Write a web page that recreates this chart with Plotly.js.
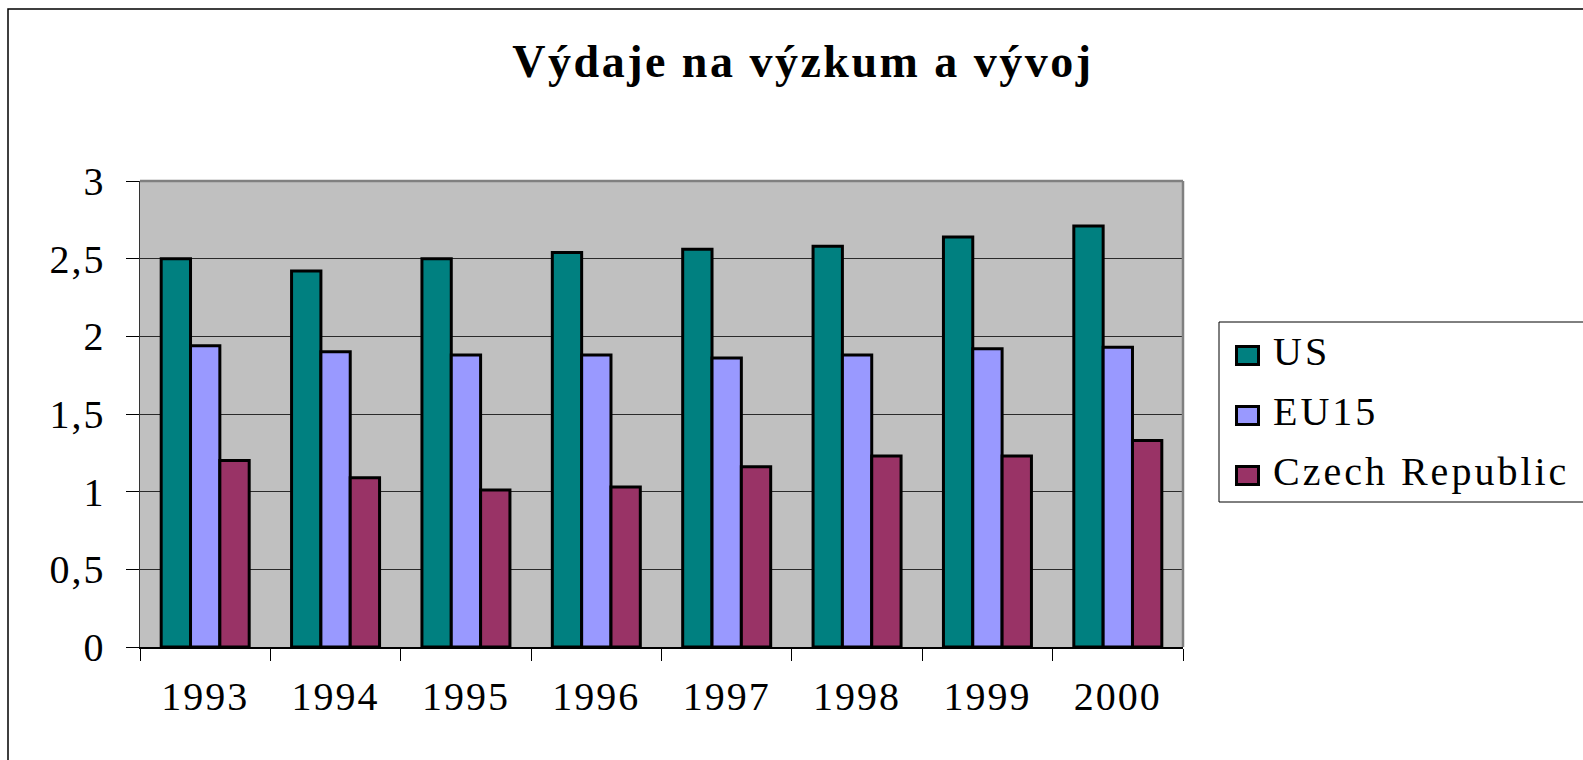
<!DOCTYPE html>
<html>
<head>
<meta charset="utf-8">
<script src="https://cdn.plot.ly/plotly-3.0.1.min.js"></script>
<style>
  html, body { margin: 0; padding: 0; background: #fff; overflow: hidden; }
  #chart { width: 1583px; height: 760px; }
  .gtitle { letter-spacing: 2.5px; }
  .xtick text { letter-spacing: 2px; }
  .ytick text { letter-spacing: 2px; }
  .annotation-text { letter-spacing: 3px; }
</style>
</head>
<body>
<div id="chart"></div>
<script>
const years = ['1993', '1994', '1995', '1996', '1997', '1998', '1999', '2000'];
const usValues = [2.50, 2.42, 2.50, 2.54, 2.56, 2.58, 2.64, 2.71];
const eu15Values = [1.94, 1.90, 1.88, 1.88, 1.86, 1.88, 1.92, 1.93];
const czValues = [1.20, 1.09, 1.01, 1.03, 1.16, 1.23, 1.23, 1.33];
const seriesNames = ['US', 'EU15', 'Czech Republic'];
const titleText = 'Výdaje na výzkum a vývoj';

const colors = ['#008080', '#9999FF', '#993366'];
const serif = 'Liberation Serif, Times New Roman, serif';

const seriesValues = [usValues, eu15Values, czValues];
const traces = seriesValues.map((vals, i) => ({
  type: 'bar',
  name: seriesNames[i],
  x: years,
  y: vals,
  marker: { color: colors[i], line: { color: '#000', width: 3 } },
  hoverinfo: 'skip',
  showlegend: false
}));

const W = 1583, H = 760;
const L = 140, R = 1183, T = 181, B = 647;
const pw = R - L, ph = B - T;
const px = v => (v - L) / pw;
const py = v => (B - v) / ph;

// legend (drawn as a boxed key to the right of the plot)
const legendBox = { left: 1219, top: 322, bottom: 502 };
const keyCenterX = 1247.5, keyW = 22, keyH = 18;
const rowCenters = [355.5, 415.5, 475.5];
const textLeft = 1271;

const shapes = [
  // outer chart frame (cut by the picture edge on right and bottom)
  { type: 'rect', xref: 'paper', yref: 'paper', layer: 'above',
    x0: px(8), x1: px(1700), y0: py(900), y1: py(9),
    line: { color: '#000', width: 1.5 }, fillcolor: 'rgba(0,0,0,0)' },
  // legend box
  { type: 'rect', xref: 'paper', yref: 'paper', layer: 'above',
    x0: px(legendBox.left), x1: px(1640), y0: py(legendBox.bottom), y1: py(legendBox.top),
    line: { color: '#000', width: 1 }, fillcolor: 'rgba(0,0,0,0)' },
  // plot area border top/right (gray)
  { type: 'line', xref: 'paper', yref: 'paper', layer: 'above',
    x0: 0, x1: 1, y0: 1, y1: 1, line: { color: '#808080', width: 2.5 } },
  { type: 'line', xref: 'paper', yref: 'paper', layer: 'above',
    x0: 1, x1: 1, y0: 0, y1: 1, line: { color: '#808080', width: 2.5 } }
];
const annotations = [];
seriesNames.forEach((name, i) => {
  const cy = rowCenters[i];
  shapes.push({
    type: 'rect', xref: 'paper', yref: 'paper', layer: 'above',
    x0: px(keyCenterX - keyW / 2), x1: px(keyCenterX + keyW / 2),
    y0: py(cy + keyH / 2), y1: py(cy - keyH / 2),
    fillcolor: colors[i], line: { color: '#000', width: 3 }
  });
  annotations.push({
    xref: 'paper', yref: 'paper',
    x: px(textLeft), xanchor: 'left',
    y: py(cy - 4), yanchor: 'middle',
    text: name, showarrow: false,
    font: { family: serif, size: 40, color: '#000' }
  });
});

const layout = {
  width: W, height: H,
  margin: { l: L, r: W - R, t: T, b: H - B, pad: 0 },
  paper_bgcolor: '#ffffff',
  plot_bgcolor: '#C0C0C0',
  separators: ', ',
  barmode: 'group',
  bargap: 0.325,
  bargroupgap: 0,
  showlegend: false,
  title: {
    text: titleText,
    font: { family: serif, size: 46, color: '#000', weight: 'bold' },
    xref: 'container', yref: 'container',
    x: 803 / W, xanchor: 'center',
    y: 1 - 61 / H, yanchor: 'middle'
  },
  xaxis: {
    type: 'category',
    tickson: 'boundaries',
    ticks: 'outside', ticklen: 12, tickwidth: 1, tickcolor: '#000',
    showgrid: false,
    showline: true, linecolor: '#000', linewidth: 1.5,
    tickfont: { family: serif, size: 40, color: '#000' },
    ticklabelstandoff: 13,
    zeroline: false,
    fixedrange: true
  },
  yaxis: {
    range: [0, 3], dtick: 0.5, tick0: 0,
    ticks: 'outside', ticklen: 13, tickwidth: 1, tickcolor: '#000',
    ticksuffix: '\u00A0',
    showgrid: true, gridcolor: '#2a2a2a', gridwidth: 1,
    showline: true, linecolor: '#333', linewidth: 1.5,
    zeroline: false,
    tickfont: { family: serif, size: 40, color: '#000' },
    fixedrange: true
  },
  shapes: shapes,
  annotations: annotations
};

Plotly.newPlot('chart', traces, layout, { staticPlot: true, displayModeBar: false });
</script>
</body>
</html>
